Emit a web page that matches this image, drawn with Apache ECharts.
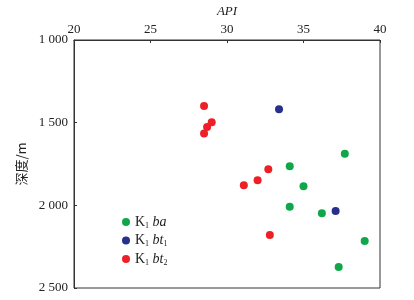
<!DOCTYPE html>
<html>
<head>
<meta charset="utf-8">
<script src="https://cdn.jsdelivr.net/npm/echarts@6/dist/echarts.min.js"></script>
<style>
  html, body { margin: 0; padding: 0; background: #fff; }
  #chart { width: 414px; height: 300px; }
</style>
</head>
<body>
<div id="chart"></div>
<script>
// [API, depth m]
const baPoints = [
  [37.7, 1688], [34.1, 1764], [35.0, 1885], [34.1, 2008],
  [36.2, 2048], [39.0, 2216], [37.3, 2373]
];
const bt1Points = [
  [33.4, 1419], [37.1, 2034]
];
const bt2Points = [
  [28.5, 1399], [29.0, 1498], [28.7, 1526], [28.5, 1565],
  [32.7, 1782], [32.0, 1849], [31.1, 1879], [32.8, 2180]
];

const seriesNames = ['K1ba', 'K1bt1', 'K1bt2'];
const seriesColors = ['#10a64a', '#2a2f8c', '#ee2027'];

const serif = '"Liberation Serif", "DejaVu Serif", serif';
const axisColor = '#333';

// "1000" -> "1 000"
function spaced(v) {
  return String(v).replace(/\B(?=(\d{3})+(?!\d))/g, ' ');
}

const legendLabels = {
  K1ba: '{k|K}{s|1}{i| ba}',
  K1bt1: '{k|K}{s|1}{i| bt}{s|1}',
  K1bt2: '{k|K}{s|1}{i| bt}{s|2}'
};

const chart = echarts.init(document.getElementById('chart'));

chart.setOption({
  animation: false,
  grid: {
    left: 74, right: 34, top: 40, bottom: 12,
    outerBoundsMode: 'none',
    show: true, borderColor: axisColor, borderWidth: 1
  },
  xAxis: {
    type: 'value',
    position: 'top',
    min: 20, max: 40, interval: 5,
    name: 'API',
    nameLocation: 'middle',
    nameGap: 22,
    nameTextStyle: { fontFamily: serif, fontStyle: 'italic', fontSize: 13, color: '#222' },
    axisLine: { lineStyle: { color: axisColor } },
    axisTick: { inside: true, length: 3, lineStyle: { color: axisColor } },
    axisLabel: { fontFamily: serif, fontSize: 13, color: '#222', margin: 4 },
    splitLine: { show: false }
  },
  yAxis: {
    type: 'value',
    inverse: true,
    min: 1000, max: 2500, interval: 500,
    name: '深度/m',
    nameLocation: 'middle',
    nameRotate: 90,
    nameGap: 40,
    nameTextStyle: { fontFamily: '"Noto Sans CJK SC", sans-serif', fontSize: 13, color: '#222' },
    axisLine: { lineStyle: { color: axisColor } },
    axisTick: { inside: true, length: 3, lineStyle: { color: axisColor } },
    axisLabel: {
      fontFamily: serif, fontSize: 13, color: '#222', margin: 6,
      formatter: v => spaced(v)
    },
    splitLine: { show: false }
  },
  legend: {
    orient: 'vertical',
    left: 117, top: 210,
    itemWidth: 8, itemHeight: 8, itemGap: 4,
    icon: 'circle',
    data: seriesNames,
    formatter: name => legendLabels[name],
    textStyle: {
      fontFamily: serif, fontSize: 14, color: '#222',
      rich: {
        k: { fontFamily: serif, fontSize: 14, color: '#222' },
        s: { fontFamily: serif, fontSize: 8, color: '#222', verticalAlign: 'bottom', padding: [7, 0, 0, 0] },
        i: { fontFamily: serif, fontSize: 14, fontStyle: 'italic', color: '#222' }
      }
    }
  },
  series: [baPoints, bt1Points, bt2Points].map((pts, i) => ({
    type: 'scatter',
    name: seriesNames[i],
    data: pts,
    symbolSize: 8,
    itemStyle: { color: seriesColors[i], opacity: 1 }
  }))
});
</script>
</body>
</html>
